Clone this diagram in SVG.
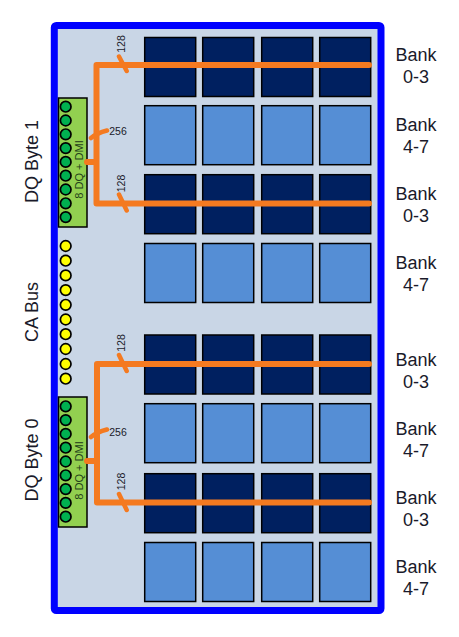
<svg xmlns="http://www.w3.org/2000/svg" width="459" height="637" viewBox="0 0 459 637">
<style>
text{font-family:"Liberation Sans",Arial,sans-serif;fill:#1a1a2a;text-anchor:middle}
.side{font-size:18px}
.w{font-size:10.500px}
.dq{font-size:11px;fill:#24401a}
.d{fill:#002060;stroke:#000;stroke-width:1.500}
.l{fill:#558ed5;stroke:#000;stroke-width:1.500}
.g{fill:#92d050;stroke:#000;stroke-width:1.500}
.gp{fill:#00b050;stroke:#000;stroke-width:1.700}
.y{fill:#ff0;stroke:#000;stroke-width:1.700}
.o{fill:none;stroke:#f47a20;stroke-linecap:round;stroke-linejoin:round}
.m{stroke-width:6}
.t{stroke-width:4.500}
</style>
<defs>
<g id="rd"><rect class="d" x="144.700" width="51" height="59"/><rect class="d" x="202.700" width="51" height="59"/><rect class="d" x="261.700" width="51" height="59"/><rect class="d" x="319.700" width="51" height="59"/></g>
<g id="rl"><rect class="l" x="144.700" width="51" height="59"/><rect class="l" x="202.700" width="51" height="59"/><rect class="l" x="261.700" width="51" height="59"/><rect class="l" x="319.700" width="51" height="59"/></g>
<g id="pins"><circle class="gp" cx="65.700" cy="0" r="5.300"/><circle class="gp" cx="65.700" cy="13.800" r="5.300"/><circle class="gp" cx="65.700" cy="27.600" r="5.300"/><circle class="gp" cx="65.700" cy="41.400" r="5.300"/><circle class="gp" cx="65.700" cy="55.200" r="5.300"/><circle class="gp" cx="65.700" cy="69" r="5.300"/><circle class="gp" cx="65.700" cy="82.800" r="5.300"/><circle class="gp" cx="65.700" cy="96.600" r="5.300"/><circle class="gp" cx="65.700" cy="110.400" r="5.300"/></g>
</defs>
<g id="package"><rect x="54.300" y="25.500" width="326.700" height="585" rx="2" fill="#c9d6e6" stroke="#0000ff" stroke-width="7"/></g>
<g id="banks">
<use href="#rd" y="37.500"/><use href="#rl" y="105.700"/><use href="#rd" y="174.700"/><use href="#rl" y="243.500"/>
<use href="#rd" y="335"/><use href="#rl" y="403.700"/><use href="#rd" y="473.700"/><use href="#rl" y="542.500"/>
</g>
<g id="dq1"><rect class="g" x="58.500" y="98" width="28.500" height="129"/><use href="#pins" y="106.700"/><text class="dq" transform="translate(83 169.500) rotate(-90)">8 DQ + DMI</text></g>
<g id="dq0"><rect class="g" x="58.500" y="397" width="28.500" height="130"/><use href="#pins" y="406.300"/><text class="dq" transform="translate(83 470.500) rotate(-90)">8 DQ + DMI</text></g>
<g id="ca">
<circle class="y" cx="65.700" cy="246" r="5.300"/><circle class="y" cx="65.700" cy="260.700" r="5.300"/><circle class="y" cx="65.700" cy="275.400" r="5.300"/><circle class="y" cx="65.700" cy="290.100" r="5.300"/><circle class="y" cx="65.700" cy="304.800" r="5.300"/><circle class="y" cx="65.700" cy="319.500" r="5.300"/><circle class="y" cx="65.700" cy="334.200" r="5.300"/><circle class="y" cx="65.700" cy="349" r="5.300"/><circle class="y" cx="65.700" cy="364" r="5.300"/><circle class="y" cx="65.700" cy="378.700" r="5.300"/>
</g>
<g id="connectors">
<path class="o m" d="M369 65H96.500V203.500H369M87 162H96.500"/>
<path class="o m" d="M369 364H97V502.500H369M87 461H97"/>
<path class="o t" d="M119 56.500L126.700 71M91 138Q97 133 107 130.500M119 194.500L126.700 210.500M119 355L126.700 371M91 437Q97 432 107 429.500M119 494L126.700 510"/>
</g>
<g id="labels">
<text class="w" transform="translate(124.500 44) rotate(-90)">128</text>
<text class="w" transform="translate(124.500 183.500) rotate(-90)">128</text>
<text class="w" transform="translate(124.500 343) rotate(-90)">128</text>
<text class="w" transform="translate(124.500 481.500) rotate(-90)">128</text>
<text class="w" x="118" y="135">256</text>
<text class="w" x="118" y="436">256</text>
<text class="side" transform="translate(38 161.500) rotate(-90)">DQ Byte 1</text>
<text class="side" transform="translate(38 312) rotate(-90)">CA Bus</text>
<text class="side" transform="translate(38 460) rotate(-90)">DQ Byte 0</text>
<text class="side" x="416" y="60.500">Bank</text><text class="side" x="416" y="82.500">0-3</text>
<text class="side" x="416" y="130.500">Bank</text><text class="side" x="416" y="152.500">4-7</text>
<text class="side" x="416" y="199.500">Bank</text><text class="side" x="416" y="221.500">0-3</text>
<text class="side" x="416" y="268.500">Bank</text><text class="side" x="416" y="290.500">4-7</text>
<text class="side" x="416" y="365.500">Bank</text><text class="side" x="416" y="387.500">0-3</text>
<text class="side" x="416" y="434.500">Bank</text><text class="side" x="416" y="456.500">4-7</text>
<text class="side" x="416" y="503.500">Bank</text><text class="side" x="416" y="525.500">0-3</text>
<text class="side" x="416" y="572.500">Bank</text><text class="side" x="416" y="594.500">4-7</text>
</g>
</svg>
